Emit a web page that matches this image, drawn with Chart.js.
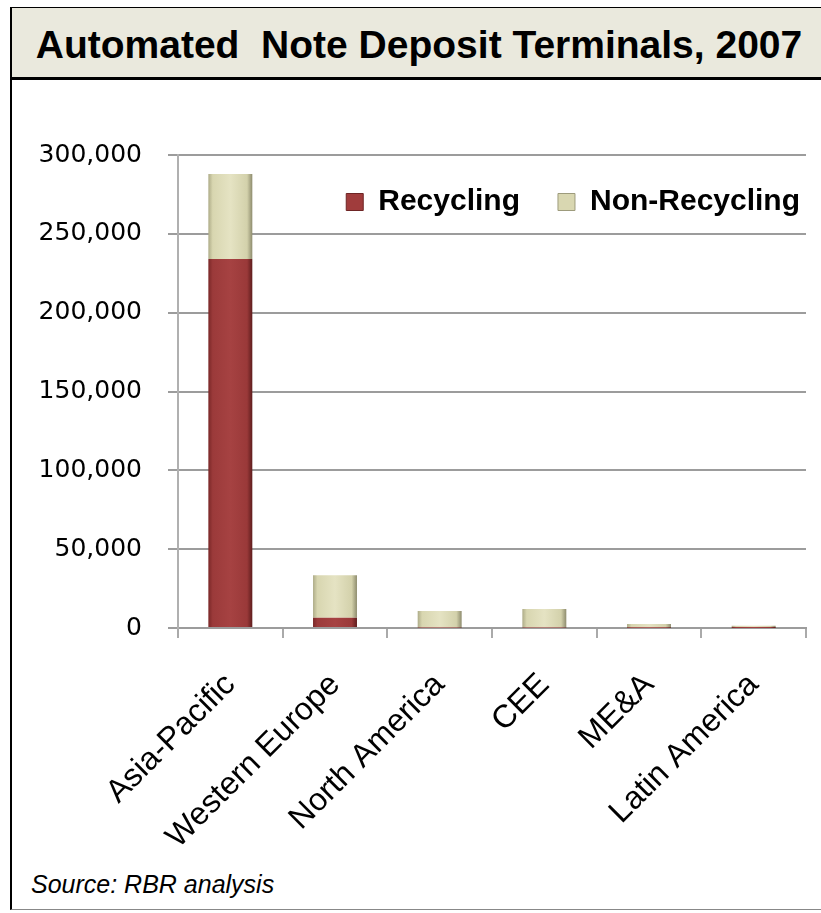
<!DOCTYPE html>
<html><head><meta charset="utf-8">
<script src="https://cdn.jsdelivr.net/npm/chart.js@4.4.1/dist/chart.umd.min.js"></script>
<style>
html,body{margin:0;padding:0;background:#fff;width:821px;height:913px;overflow:hidden;}
#frame{position:absolute;left:10px;top:7px;width:840px;height:903px;border-left:2px solid #000;border-top:1px solid #000;border-bottom:1px solid #888;box-sizing:border-box;}
#titlebox{position:absolute;left:10px;top:8px;width:840px;height:69px;background:#eae9dd;border-bottom:3px solid #000;border-left:2px solid #000;}
#title{position:absolute;left:0;top:8px;width:838px;height:69px;text-align:center;font:bold 39px "Liberation Sans",Arial,sans-serif;line-height:74px;color:#000;white-space:pre;}
#chartwrap{position:absolute;left:0;top:80px;width:821px;height:790px;}
#source{position:absolute;left:31px;top:870px;font:italic 25px "Liberation Sans",Arial,sans-serif;color:#000;}
</style></head>
<body>
<div id="frame"></div>
<div id="titlebox"></div>
<div id="title">Automated  Note Deposit Terminals, 2007</div>
<div id="chartwrap"><canvas id="c" width="821" height="790"></canvas></div>
<div id="source">Source: RBR analysis</div>
<script>
const categories = ['Asia-Pacific', 'Western Europe', 'North America', 'CEE', 'ME&A', 'Latin America'];
const recycling = [234000, 6500, 300, 300, 100, 50];
const nonRecycling = [54000, 27000, 10500, 11700, 2400, 1400];
const seriesNames = ['Recycling', 'Non-Recycling'];
const yMin = 0, yMax = 300000, yStep = 50000;

const BAR_FRAC = 0.42;
const redStops = [[0,'#7a2828'],[0.1,'#9b3a3a'],[0.5,'#a64242'],[0.88,'#9a3939'],[1,'#5e1d1d']];
const beigeStops = [[0,'#aeac88'],[0.1,'#d8d6b0'],[0.5,'#e5e3c3'],[0.88,'#d3d1ab'],[1,'#8e8c6e']];

function barFill(stops){
  return (ctx) => {
    const chart = ctx.chart;
    const xs = chart.scales && chart.scales.x;
    if (!xs || ctx.type !== 'data' || !xs.width) return stops[2][1];
    const c = xs.getPixelForValue(ctx.dataIndex);
    const half = (xs.width / categories.length) * BAR_FRAC / 2;
    const g = chart.ctx.createLinearGradient(c - half, 0, c + half, 0);
    stops.forEach(s => g.addColorStop(s[0], s[1]));
    return g;
  };
}

const legendColors = ['#a03c3c', '#d9d7b1'];
const legendBorders = ['#6e2525', '#9d9b7c'];

const legendInside = {
  id: 'legendInside',
  beforeLayout(chart){
    if (chart.legend) chart.legend.isHorizontal = () => true;
  },
  afterLayout(chart){
    const l = chart.legend;
    if (!l) return;
    const a = chart.chartArea;
    const h = l.height;
    l.left = a.left;
    l.right = a.right + 32;
    l.top = a.top - 6;
    l.bottom = l.top + h;
  }
};

new Chart(document.getElementById('c'), {
  type: 'bar',
  data: {
    labels: categories,
    datasets: [
      {label: seriesNames[0], data: recycling, backgroundColor: barFill(redStops), borderWidth: 0, barPercentage: BAR_FRAC, categoryPercentage: 1},
      {label: seriesNames[1], data: nonRecycling, backgroundColor: barFill(beigeStops), borderWidth: 0, barPercentage: BAR_FRAC, categoryPercentage: 1}
    ]
  },
  options: {
    responsive: false,
    animation: false,
    layout: {padding: {top: 75, right: 15, left: 0, bottom: 0}},
    plugins: {
      title: {display: false},
      tooltip: {enabled: false},
      legend: {
        position: 'chartArea',
        align: 'end',
        labels: {
          font: {family: 'Liberation Sans', size: 30, weight: 'bold'},
          color: '#000',
          boxWidth: 17, boxHeight: 17, padding: 38,
          generateLabels(chart){
            return chart.data.datasets.map((ds, i) => ({
              text: ds.label, fillStyle: legendColors[i], strokeStyle: legendBorders[i],
              lineWidth: 1, datasetIndex: i, hidden: false, fontColor: '#000'
            }));
          }
        }
      }
    },
    scales: {
      x: {
        stacked: true,
        ticks: {color: '#000', font: {family: 'Liberation Sans', size: 32}, minRotation: 45, maxRotation: 45, autoSkip: false, padding: 28},
        grid: {display: true, drawOnChartArea: false, drawTicks: true, tickLength: 10, color: '#aaaaaa', lineWidth: 2, offset: true},
        border: {display: true, color: '#9c9c9c', width: 2},
        afterFit(a){ a.height = 242; }
      },
      y: {
        stacked: true, min: yMin, max: yMax,
        ticks: {stepSize: yStep, color: '#000', font: {family: 'DejaVu Sans', size: 25}, padding: 26},
        grid: {color: '#9c9c9c', lineWidth: 2, tickLength: 10, drawTicks: true},
        border: {display: true, color: '#b0b0b0', width: 2},
        afterFit(a){ a.width = 178; }
      }
    }
  },
  plugins: [legendInside]
});
</script>
</body></html>
